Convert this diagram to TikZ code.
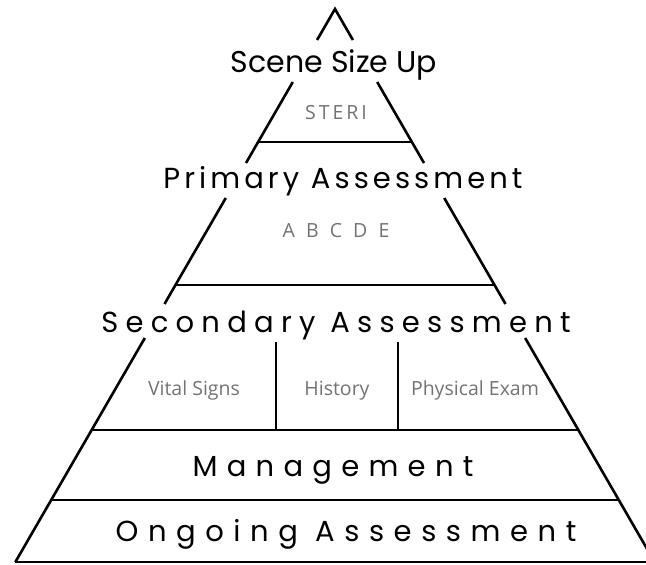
\documentclass[tikz,border=0pt]{standalone}
\usepackage{fontspec}
\setmainfont{Poppins}
\newfontfamily\subfont{Open Sans}
\usetikzlibrary{calc}
\definecolor{subgray}{gray}{0.45}
\def\pyrslope{0.578}
\def\sides(#1:#2){\draw[wall] ({335-\pyrslope*(#1-9)}, #1) -- ({335-\pyrslope*(#2-9)}, #2); \draw[wall] ({335+\pyrslope*(#1-9)}, #1) -- ({335+\pyrslope*(#2-9)}, #2);}
\def\shelf(#1){\draw[wall] ({335-\pyrslope*(#1-9)}, #1) -- ({335+\pyrslope*(#1-9)}, #1);}
\tikzset{
	wall/.style={line width=2.6pt},
	title/.style={anchor=base, font={\fontsize{30}{30}\selectfont}},
	heading/.style={anchor=base, font={\fontsize{29}{29}\selectfont\addfontfeature{LetterSpace=#1}}},
	sub/.style={anchor=base, text=subgray, font={\subfont\fontsize{19.5}{19.5}\selectfont\addfontfeature{LetterSpace=#1}}},
	sub/.default=0
}

\begin{document}
\begin{tikzpicture}[x=1pt, y=-1pt]
			%%%%% START %%%%%
			\useasboundingbox (0, 0) rectangle (646, 565);
			
			\draw[wall] ({335-\pyrslope*31}, 40) -- (335, 9) -- ({335+\pyrslope*31}, 40);
			\sides(82:163)
			\sides(198:304)
			\sides(338:562)
			
			\shelf(142)
			\shelf(285)
			\shelf(430)
			\shelf(500)
			\shelf(562)
			
			\draw[wall] (276, 342) -- (276, 430);
			\draw[wall] (398, 342) -- (398, 430);
			
			\node[title] (scene) at (334, 72) {Scene Size Up};
			\node[sub=15] (steri) at (336, 119) {STERI};
			
			\node[heading=14] (primary) at (343, 188) {Primary Assessment};
			\node[sub=31] (abcde) at (336, 237) {A B C D E};
			
			\node[heading=25] (secondary) at (336, 332) {Secondary Assessment};
			\node[sub] (vital) at (194, 395) {Vital Signs};
			\node[sub] (history) at (337, 395) {History};
			\node[sub] (exam) at (475, 395) {Physical Exam};
			
			\node[heading=32] (management) at (333, 476) {Management};
			\node[heading=33] (ongoing) at (346, 541) {Ongoing Assessment};
			%%%%% END %%%%%
\end{tikzpicture}
\end{document}
